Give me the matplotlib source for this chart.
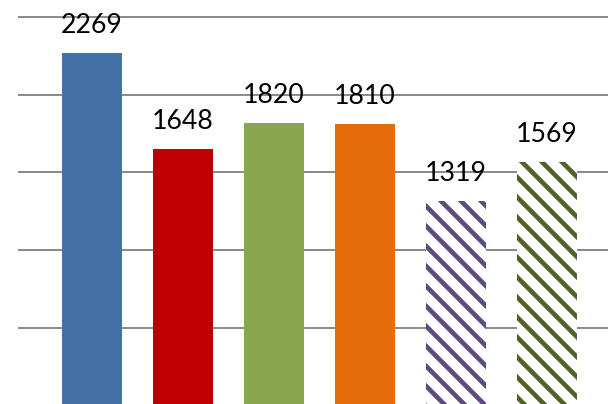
import matplotlib
matplotlib.use("Agg")
import matplotlib.pyplot as plt

values = [2269, 1648, 1820, 1810, 1319, 1569]
colors = ["#4472a6", "#c00000", "#8aa64e", "#e46c0a", "#5f4a7f", "#4f6228"]
hatched = [False, False, False, False, True, True]
gridvals = [500, 1000, 1500, 2000, 2500]

plt.rcParams["hatch.linewidth"] = 2.8
plt.rcParams["font.family"] = ["Lato", "DejaVu Sans"]

fig = plt.figure(figsize=(608 / 120, 404 / 120), dpi=120)
ax = fig.add_axes([18 / 608, 0, 590 / 608, 1])

for g in gridvals:
    ax.axhline(g, color="#8c8c8c", linewidth=1.2, zorder=0)

x = list(range(len(values)))
for i, v in enumerate(values):
    if hatched[i]:
        ax.bar(x[i], v, width=0.66, facecolor="white", edgecolor=colors[i],
               linewidth=0, hatch="\\\\", zorder=2)
    else:
        ax.bar(x[i], v, width=0.66, color=colors[i], linewidth=0, zorder=2)
    ax.annotate(str(v), (x[i], v), xytext=(0, 12), textcoords="offset points",
                ha="center", va="baseline", fontsize=16, color="black")

ax.set_xlim(-0.813, 5.67)
ax.set_ylim(10, 2609)
ax.axis("off")

fig.savefig("out.png", dpi=120)
